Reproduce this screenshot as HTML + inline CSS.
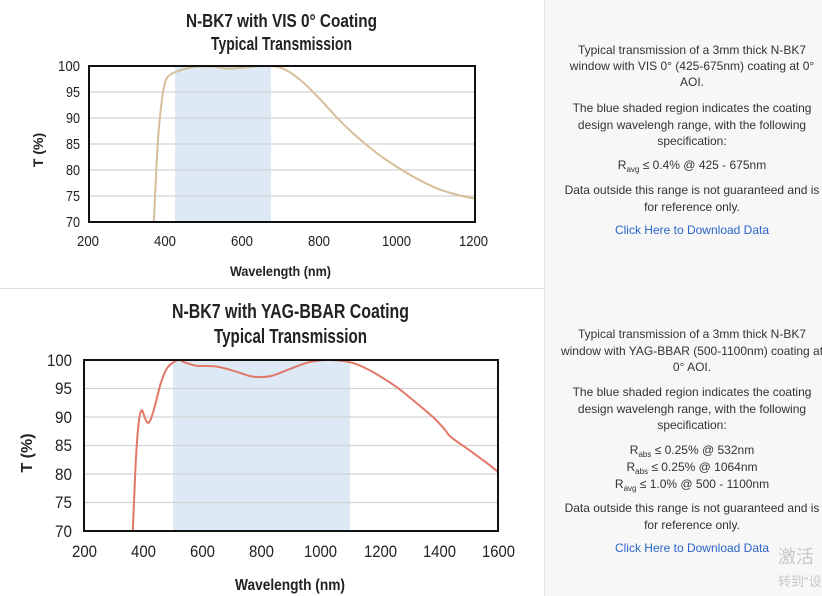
<!DOCTYPE html>
<html><head><meta charset="utf-8"><style>
html,body{margin:0;padding:0;width:822px;height:596px;overflow:hidden;background:#fff}
#r{position:absolute;left:544px;top:0;width:278px;height:596px;background:#f7f7f7;border-left:1px solid #e2e2e2}
.t{position:absolute;left:545px;width:294px;text-align:center;font-family:"Liberation Sans",sans-serif;font-size:12px;color:#333;white-space:nowrap;line-height:16px}
.t sub{font-size:8px;vertical-align:-3px;line-height:0}
.a{color:#2a64c8}
.w{position:absolute;left:778px;font-family:"Liberation Sans","Noto Sans CJK SC",sans-serif;color:#c8c8c8;white-space:nowrap}
</style></head><body>
<div id="r"></div>
<svg width="544" height="596" style="position:absolute;left:0;top:0" font-family="Liberation Sans, sans-serif" font-weight="bold" fill="#222">
<line x1="0" y1="288.5" x2="544" y2="288.5" stroke="#ddd"/>
<text x="186" y="27" font-size="18" textLength="191" lengthAdjust="spacingAndGlyphs">N-BK7 with VIS 0° Coating</text>
<text x="211" y="50" font-size="18" textLength="141" lengthAdjust="spacingAndGlyphs">Typical Transmission</text>
<rect x="175" y="66" width="96" height="156" fill="#dde9f5"/>
<g stroke="#d4d4d4" stroke-width="1.2"><line x1="89" x2="475" y1="92" y2="92"/><line x1="89" x2="475" y1="118" y2="118"/><line x1="89" x2="475" y1="144" y2="144"/><line x1="89" x2="475" y1="170" y2="170"/><line x1="89" x2="475" y1="196" y2="196"/></g>
<path id="c1" fill="none" stroke="#d6bf98" stroke-width="2"/>
<rect x="89" y="66" width="386" height="156" fill="none" stroke="#111" stroke-width="2"/>
<g font-size="15" font-weight="normal" lengthAdjust="spacingAndGlyphs"><text x="58" y="71" textLength="22" lengthAdjust="spacingAndGlyphs">100</text><text x="66" y="97" textLength="14" lengthAdjust="spacingAndGlyphs">95</text><text x="66" y="123" textLength="14" lengthAdjust="spacingAndGlyphs">90</text><text x="66" y="149" textLength="14" lengthAdjust="spacingAndGlyphs">85</text><text x="66" y="175" textLength="14" lengthAdjust="spacingAndGlyphs">80</text><text x="66" y="201" textLength="14" lengthAdjust="spacingAndGlyphs">75</text><text x="66" y="227" textLength="14" lengthAdjust="spacingAndGlyphs">70</text></g>
<g font-size="15" font-weight="normal"><text x="77" y="246" textLength="22" lengthAdjust="spacingAndGlyphs">200</text><text x="154" y="246" textLength="22" lengthAdjust="spacingAndGlyphs">400</text><text x="231" y="246" textLength="22" lengthAdjust="spacingAndGlyphs">600</text><text x="308" y="246" textLength="22" lengthAdjust="spacingAndGlyphs">800</text><text x="382" y="246" textLength="29" lengthAdjust="spacingAndGlyphs">1000</text><text x="459" y="246" textLength="29" lengthAdjust="spacingAndGlyphs">1200</text></g>
<text x="230" y="276" font-size="14" textLength="101" lengthAdjust="spacingAndGlyphs">Wavelength (nm)</text>
<text transform="translate(43,150) rotate(-90)" font-size="14" text-anchor="middle">T (%)</text>
<text x="172" y="318" font-size="20" textLength="237" lengthAdjust="spacingAndGlyphs">N-BK7 with YAG-BBAR Coating</text>
<text x="214" y="343" font-size="20" textLength="153" lengthAdjust="spacingAndGlyphs">Typical Transmission</text>
<rect x="173" y="360" width="177" height="171" fill="#dde9f5"/>
<g stroke="#d4d4d4" stroke-width="1.2"><line x1="84" x2="498" y1="388.5" y2="388.5"/><line x1="84" x2="498" y1="417" y2="417"/><line x1="84" x2="498" y1="445.5" y2="445.5"/><line x1="84" x2="498" y1="474" y2="474"/><line x1="84" x2="498" y1="502.5" y2="502.5"/></g>
<path id="c2" fill="none" stroke="#e27868" stroke-width="2"/>
<rect x="84" y="360" width="414" height="171" fill="none" stroke="#111" stroke-width="2"/>
<g font-size="17" font-weight="normal"><text x="47" y="366" textLength="25" lengthAdjust="spacingAndGlyphs">100</text><text x="55" y="394" textLength="17" lengthAdjust="spacingAndGlyphs">95</text><text x="55" y="423" textLength="17" lengthAdjust="spacingAndGlyphs">90</text><text x="55" y="451" textLength="17" lengthAdjust="spacingAndGlyphs">85</text><text x="55" y="480" textLength="17" lengthAdjust="spacingAndGlyphs">80</text><text x="55" y="508" textLength="17" lengthAdjust="spacingAndGlyphs">75</text><text x="55" y="537" textLength="17" lengthAdjust="spacingAndGlyphs">70</text></g>
<g font-size="17" font-weight="normal"><text x="72" y="557" textLength="25" lengthAdjust="spacingAndGlyphs">200</text><text x="131" y="557" textLength="25" lengthAdjust="spacingAndGlyphs">400</text><text x="190" y="557" textLength="25" lengthAdjust="spacingAndGlyphs">600</text><text x="249" y="557" textLength="25" lengthAdjust="spacingAndGlyphs">800</text><text x="304" y="557" textLength="33" lengthAdjust="spacingAndGlyphs">1000</text><text x="364" y="557" textLength="33" lengthAdjust="spacingAndGlyphs">1200</text><text x="423" y="557" textLength="33" lengthAdjust="spacingAndGlyphs">1400</text><text x="482" y="557" textLength="33" lengthAdjust="spacingAndGlyphs">1600</text></g>
<text x="235" y="590" font-size="16" textLength="110" lengthAdjust="spacingAndGlyphs">Wavelength (nm)</text>
<text transform="translate(32,453) rotate(-90)" font-size="16" text-anchor="middle">T (%)</text>
</svg>
<div class="t" style="top:42px">Typical transmission of a 3mm thick N-BK7</div>
<div class="t" style="top:58px">window with VIS 0° (425-675nm) coating at 0°</div>
<div class="t" style="top:74px">AOI.</div>
<div class="t" style="top:100px">The blue shaded region indicates the coating</div>
<div class="t" style="top:117px">design wavelengh range, with the following</div>
<div class="t" style="top:133px">specification:</div>
<div class="t" style="top:157px">R<sub>avg</sub> ≤ 0.4% @ 425 - 675nm</div>
<div class="t" style="top:182px">Data outside this range is not guaranteed and is</div>
<div class="t" style="top:199px">for reference only.</div>
<div class="t a" style="top:222px">Click Here to Download Data</div>
<div class="t" style="top:326px">Typical transmission of a 3mm thick N-BK7</div>
<div class="t" style="top:343px">window with YAG-BBAR (500-1100nm) coating at</div>
<div class="t" style="top:359px">0° AOI.</div>
<div class="t" style="top:384px">The blue shaded region indicates the coating</div>
<div class="t" style="top:401px">design wavelengh range, with the following</div>
<div class="t" style="top:417px">specification:</div>
<div class="t" style="top:442px">R<sub>abs</sub> ≤ 0.25% @ 532nm</div>
<div class="t" style="top:459px">R<sub>abs</sub> ≤ 0.25% @ 1064nm</div>
<div class="t" style="top:476px">R<sub>avg</sub> ≤ 1.0% @ 500 - 1100nm</div>
<div class="t" style="top:500px">Data outside this range is not guaranteed and is</div>
<div class="t" style="top:517px">for reference only.</div>
<div class="t a" style="top:540px">Click Here to Download Data</div>
<div class="w" style="top:543px;font-size:18px">激活</div>
<div class="w" style="top:571px;font-size:13px">转到"设</div>
<script>
function path(pts,fx,fy){var p=pts.map(function(a){return[fx(a[0]),fy(a[1])]});
var d="M"+p[0][0].toFixed(1)+","+p[0][1].toFixed(1);
for(var i=0;i<p.length-1;i++){var p0=p[i-1]||p[i],p1=p[i],p2=p[i+1],p3=p[i+2]||p2;
d+=" C"+(p1[0]+(p2[0]-p0[0])/6).toFixed(1)+","+(p1[1]+(p2[1]-p0[1])/6).toFixed(1)+" "+(p2[0]-(p3[0]-p1[0])/6).toFixed(1)+","+(p2[1]-(p3[1]-p1[1])/6).toFixed(1)+" "+p2[0].toFixed(1)+","+p2[1].toFixed(1);}
return d;}
var a=[[368,70],[378,85],[388,93],[398,97],[410,98.3],[430,99],[470,99.8],[520,99.9],[560,99.5],[600,99.7],[650,100],[690,99.8],[720,98.8],[760,96.5],[800,93.5],[850,89.5],[900,86],[950,83],[1000,80.5],[1050,78.3],[1100,76.5],[1150,75.3],[1200,74.5]];
document.getElementById("c1").setAttribute("d",path(a,function(x){return 89+(x-200)*0.386},function(y){return 66+(100-y)*5.2}));
var b=[[365,70],[375,82],[385,89],[395,91.2],[405,90],[415,89],[425,89.5],[440,92],[460,96],[480,98.5],[500,99.5],[520,100],[540,99.6],[580,99],[640,98.9],[700,98.2],[760,97.2],[800,97],[840,97.3],[900,98.5],[960,99.6],[1020,100],[1080,99.8],[1120,99.3],[1180,97.8],[1250,95.5],[1300,93.5],[1380,90],[1420,87.8],[1440,86.5],[1500,84.3],[1560,82],[1600,80.4]];
document.getElementById("c2").setAttribute("d",path(b,function(x){return 84+(x-200)*0.2957},function(y){return 360+(100-y)*5.7}));
</script>
</body></html>
